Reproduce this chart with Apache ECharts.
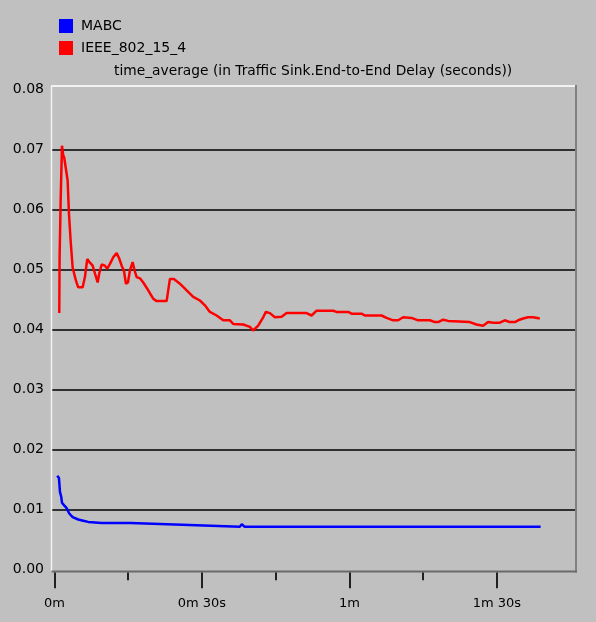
<!DOCTYPE html>
<html>
<head>
<meta charset="utf-8">
<script src="https://cdn.jsdelivr.net/npm/echarts@6/dist/echarts.min.js"></script>
<style>
  html, body { margin: 0; padding: 0; background: #c0c0c0; }
  #chart { width: 596px; height: 622px; }
</style>
</head>
<body>
<div id="chart"></div>
<script>
// ---- data (time in seconds, value in seconds) ----
const seriesNames = ['MABC', 'IEEE_802_15_4'];
const mabcTime = [0.57, 0.92, 1.12, 1.38, 1.53, 1.93, 2.48, 3.01, 3.7, 4.84, 5.86, 6.87, 9.6, 15.5, 15.7, 27.4, 27.6, 37.7, 38.1, 38.7, 98.9];
const mabcValue = [0.0156, 0.0152, 0.0129, 0.0121, 0.0111, 0.0107, 0.0102, 0.0093, 0.0087, 0.0083, 0.0081, 0.0079, 0.0077, 0.0077, 0.0074, 0.0074, 0.0071, 0.0071, 0.0075, 0.0071, 0.0071];
const ieeeTime = [0.98, 1.05, 1.26, 1.53, 1.79, 1.99, 2.28, 2.68, 2.95, 3.29, 3.70, 4.37, 4.84, 5.74, 6.20, 6.67, 7.22, 7.77, 8.24, 8.79, 9.11, 9.60, 10.27, 10.74, 11.29, 11.96, 12.65, 13.18, 13.67, 14.13, 14.54, 14.95, 15.36, 15.90, 16.31, 16.72, 17.39, 18.06, 19.08, 20.09, 20.79, 22.82, 23.49, 24.30, 25.52, 26.89, 28.23, 29.59, 30.61, 31.62, 32.99, 34.33, 35.69, 36.36, 38.40, 39.76, 40.43, 40.78, 41.45, 42.46, 43.01, 43.83, 44.84, 46.21, 47.22, 51.29, 52.31, 53.33, 56.70, 57.39, 59.75, 60.44, 62.48, 63.15, 66.55, 67.56, 68.90, 69.92, 70.94, 72.65, 73.99, 76.37, 77.39, 78.06, 79.07, 80.09, 84.50, 85.86, 87.21, 88.22, 89.24, 90.60, 91.62, 92.64, 93.66, 94.33, 95.34, 96.36, 97.38, 98.74];
const ieeeValue = [0.0427, 0.0520, 0.0614, 0.0706, 0.0690, 0.0686, 0.0670, 0.0648, 0.0593, 0.0548, 0.0503, 0.0481, 0.0470, 0.0470, 0.0487, 0.0517, 0.0511, 0.0506, 0.0493, 0.0478, 0.0493, 0.0508, 0.0506, 0.0501, 0.0509, 0.0520, 0.0527, 0.0518, 0.0506, 0.0498, 0.0476, 0.0478, 0.0498, 0.0512, 0.0498, 0.0487, 0.0485, 0.0478, 0.0465, 0.0451, 0.0447, 0.0447, 0.0484, 0.0484, 0.0476, 0.0465, 0.0454, 0.0448, 0.0440, 0.0429, 0.0423, 0.0415, 0.0415, 0.0409, 0.0408, 0.0404, 0.0398, 0.0398, 0.0406, 0.0420, 0.0429, 0.0427, 0.0420, 0.0421, 0.0427, 0.0427, 0.0423, 0.0431, 0.0431, 0.0429, 0.0429, 0.0426, 0.0426, 0.0423, 0.0423, 0.0419, 0.0415, 0.0415, 0.0420, 0.0419, 0.0415, 0.0415, 0.0412, 0.0412, 0.0416, 0.0414, 0.0412, 0.0408, 0.0406, 0.0412, 0.0411, 0.0411, 0.0415, 0.0412, 0.0412, 0.0415, 0.0418, 0.0420, 0.0420, 0.0418];
const majorTicks = [0, 30, 60, 90];
const minorTicks = [15, 45, 75];
const xTickLabels = ['0m', '0m 30s', '1m', '1m 30s'];
const chartTitle = 'time_average (in Traffic Sink.End-to-End Delay (seconds))';

// ---- layout ----
const W = 596, H = 622;
const gridLeft = 51.5, gridRight = 576, gridTop = 89.3, gridBottom = 569.3;
const frameTop = 86, frameBottom = 571.5;
const FONT = 'DejaVu Sans';

const chart = echarts.init(document.getElementById('chart'), null, { renderer: 'canvas' });

const zip = (a, b) => a.map((t, i) => [t, b[i]]);

const option = {
  backgroundColor: '#c0c0c0',
  animation: false,
  title: {
    text: chartTitle,
    left: 114, top: 64,
    textStyle: { fontFamily: FONT, fontSize: 13.8, fontWeight: 'normal', color: '#000' },
    padding: 0
  },
  legend: {
    data: seriesNames,
    orient: 'vertical',
    left: 59, top: 19,
    icon: 'rect',
    itemWidth: 14, itemHeight: 14, itemGap: 8,
    padding: 0,
    textStyle: { fontFamily: FONT, fontSize: 14, color: '#000', padding: [0, 0, 0, 3] }
  },
  grid: { left: gridLeft, right: W - gridRight, top: gridTop, bottom: H - gridBottom, containLabel: false },
  xAxis: [
    {
      type: 'value', min: -0.6, max: 106.1, position: 'bottom', offset: 3,
      axisLine: { show: false, onZero: false },
      splitLine: { show: false },
      axisTick: { show: true, customValues: majorTicks, length: 16, lineStyle: { color: '#202020', width: 2 } },
      axisLabel: {
        customValues: majorTicks, margin: 25,
        fontFamily: FONT, fontSize: 13, color: '#000',
        formatter: v => xTickLabels[majorTicks.indexOf(v)] || ''
      }
    },
    {
      type: 'value', min: -0.6, max: 106.1, position: 'bottom', offset: 3,
      axisLine: { show: false, onZero: false },
      splitLine: { show: false },
      axisTick: { show: true, customValues: minorTicks, length: 8, lineStyle: { color: '#202020', width: 2 } },
      axisLabel: { show: false }
    }
  ],
  yAxis: {
    type: 'value', min: 0, max: 0.08, interval: 0.01,
    axisLine: { show: false, onZero: false },
    axisTick: { show: false },
    axisLabel: { margin: 7.5, fontFamily: FONT, fontSize: 14, color: '#000', formatter: v => v.toFixed(2) },
    splitLine: { show: true, showMinLine: false, showMaxLine: false, lineStyle: { color: '#303030', width: 2 } }
  },
  graphic: [
    { type: 'line', shape: { x1: gridLeft - 0.5, y1: frameTop, x2: gridRight, y2: frameTop }, style: { stroke: '#f2f2f2', lineWidth: 2 }, z: 1 },
    { type: 'line', shape: { x1: gridLeft, y1: frameTop, x2: gridLeft, y2: frameBottom }, style: { stroke: '#f2f2f2', lineWidth: 1.5 }, z: 1 },
    { type: 'line', shape: { x1: gridRight, y1: frameTop - 1, x2: gridRight, y2: frameBottom + 1 }, style: { stroke: '#808080', lineWidth: 2 }, z: 1 },
    { type: 'line', shape: { x1: gridLeft, y1: frameBottom, x2: gridRight + 1, y2: frameBottom }, style: { stroke: '#6a6a6a', lineWidth: 2 }, z: 1 }
  ],
  series: [
    {
      name: seriesNames[0], type: 'line', xAxisIndex: 0,
      data: zip(mabcTime, mabcValue),
      showSymbol: false, symbol: 'none',
      lineStyle: { color: '#0000ff', width: 2.5 },
      itemStyle: { color: '#0000ff' }, z: 3
    },
    {
      name: seriesNames[1], type: 'line', xAxisIndex: 0,
      data: zip(ieeeTime, ieeeValue),
      showSymbol: false, symbol: 'none',
      lineStyle: { color: '#ff0000', width: 2.5 },
      itemStyle: { color: '#ff0000' }, z: 3
    }
  ]
};

chart.setOption(option);
</script>
</body>
</html>
